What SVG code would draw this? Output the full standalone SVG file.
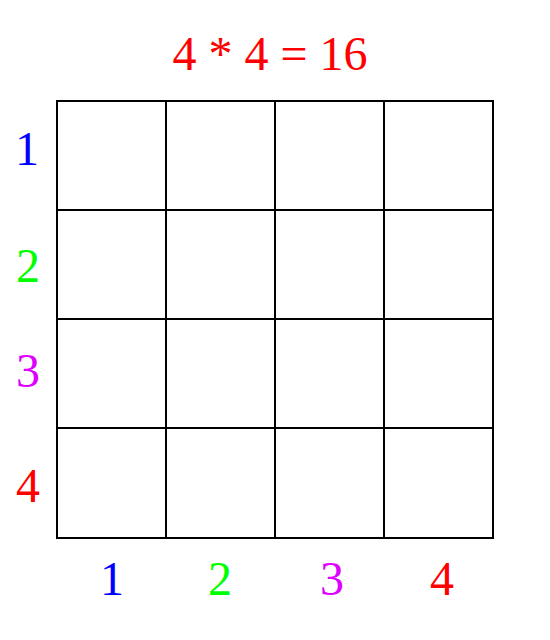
<svg xmlns="http://www.w3.org/2000/svg" width="550" height="640" viewBox="0 0 550 640">
<style>
text{font-family:"Liberation Serif","Times New Roman",serif;font-size:48px;text-anchor:middle}
.cell{fill:#fff;stroke:#000;stroke-width:2}
.c1{fill:#0000ff}.c2{fill:#00ff00}.c3{fill:#e000ff}.c4{fill:#ff0000}
</style>
<rect width="550" height="640" fill="#fff"/>
<text id="title" x="270" y="70" class="c4">4 * 4 = 16</text>
<g id="grid">
<rect class="cell" x="57" y="101" width="109" height="109"/>
<rect class="cell" x="166" y="101" width="109" height="109"/>
<rect class="cell" x="275" y="101" width="109" height="109"/>
<rect class="cell" x="384" y="101" width="109" height="109"/>
<rect class="cell" x="57" y="210" width="109" height="109"/>
<rect class="cell" x="166" y="210" width="109" height="109"/>
<rect class="cell" x="275" y="210" width="109" height="109"/>
<rect class="cell" x="384" y="210" width="109" height="109"/>
<rect class="cell" x="57" y="319" width="109" height="109"/>
<rect class="cell" x="166" y="319" width="109" height="109"/>
<rect class="cell" x="275" y="319" width="109" height="109"/>
<rect class="cell" x="384" y="319" width="109" height="109"/>
<rect class="cell" x="57" y="428" width="109" height="110"/>
<rect class="cell" x="166" y="428" width="109" height="110"/>
<rect class="cell" x="275" y="428" width="109" height="110"/>
<rect class="cell" x="384" y="428" width="109" height="110"/>
</g>
<g id="row-labels">
<text x="27" y="165" class="c1">1</text>
<text x="28" y="282" class="c2">2</text>
<text x="28" y="387" class="c3">3</text>
<text x="28" y="502" class="c4">4</text>
</g>
<g id="col-labels">
<text x="112" y="595" class="c1">1</text>
<text x="220" y="595" class="c2">2</text>
<text x="332" y="595" class="c3">3</text>
<text x="442" y="595" class="c4">4</text>
</g>
<g id="connectors"></g>
</svg>
